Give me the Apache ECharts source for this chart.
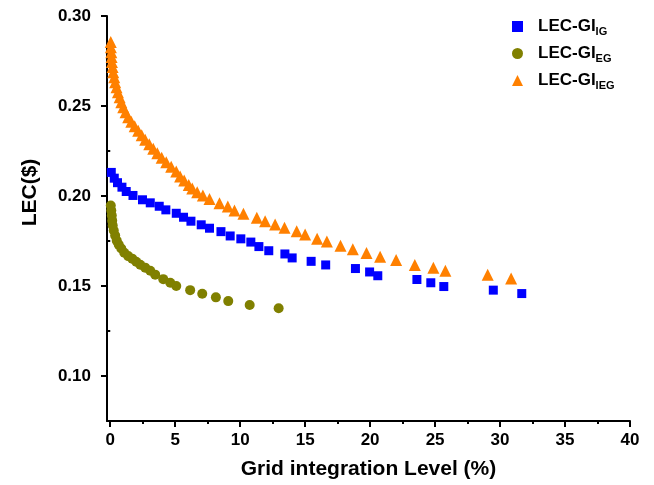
<!DOCTYPE html>
<html>
<head>
<meta charset="utf-8">
<title>LEC vs grid integration level</title>
<script src="https://cdn.jsdelivr.net/npm/echarts@6/dist/echarts.min.js"></script>
<style>
  html, body { margin: 0; padding: 0; background: #fff; }
  #chart { width: 654px; height: 485px; }
</style>
</head>
<body>
<div id="chart"></div>
<script>
// LEC-GI_IG (blue squares)
const igX = [0.08, 0.31, 0.56, 0.9, 1.23, 1.75, 2.48, 3.08, 3.77, 4.28, 5.08, 5.64, 6.21, 7.0, 7.64, 8.52, 9.23, 10.05, 10.82, 11.44, 12.2, 13.44, 14.0, 15.46, 16.58, 18.87, 19.96, 20.59, 23.6, 24.67, 25.67, 29.48, 31.67]
const igY = [0.2131, 0.2099, 0.2074, 0.2049, 0.2025, 0.2003, 0.1979, 0.1962, 0.1943, 0.1923, 0.1904, 0.1882, 0.1860, 0.1840, 0.1821, 0.1802, 0.1778, 0.1762, 0.1744, 0.1719, 0.1696, 0.1678, 0.1656, 0.1637, 0.1617, 0.1597, 0.1578, 0.1557, 0.1536, 0.1518, 0.1497, 0.1477, 0.1458]

// LEC-GI_EG (olive circles)
const egX = [0.04, 0.08, 0.12, 0.15, 0.19, 0.27, 0.38, 0.5, 0.65, 0.85, 1.08, 1.38, 1.69, 2.0, 2.31, 2.69, 3.08, 3.46, 4.08, 4.62, 5.08, 6.15, 7.08, 8.13, 9.08, 10.73, 12.96]
const egY = [0.1947, 0.1919, 0.1891, 0.1863, 0.1836, 0.1808, 0.1780, 0.1752, 0.1730, 0.1708, 0.1685, 0.1666, 0.1652, 0.1635, 0.1618, 0.1602, 0.1585, 0.1563, 0.1538, 0.1518, 0.1500, 0.1477, 0.1457, 0.1437, 0.1416, 0.1394, 0.1376]

// LEC-GI_IEG (orange triangles)
const iegX = [0.04, 0.05, 0.08, 0.1, 0.13, 0.18, 0.23, 0.31, 0.38, 0.48, 0.59, 0.72, 0.85, 1.0, 1.18, 1.38, 1.62, 1.88, 2.15, 2.42, 2.69, 3.0, 3.31, 3.62, 3.96, 4.31, 4.69, 5.08, 5.38, 5.69, 6.04, 6.31, 6.69, 7.13, 7.64, 8.41, 9.05, 9.56, 10.25, 11.28, 11.92, 12.69, 13.41, 14.35, 15.0, 15.92, 16.67, 17.72, 18.67, 19.72, 20.77, 22.0, 23.44, 24.87, 25.79, 29.05, 30.85]
const iegY = [0.2855, 0.2827, 0.2799, 0.2772, 0.2744, 0.2716, 0.2688, 0.2660, 0.2632, 0.2604, 0.2577, 0.2549, 0.2521, 0.2493, 0.2465, 0.2437, 0.2412, 0.2387, 0.2362, 0.2337, 0.2312, 0.2287, 0.2262, 0.2237, 0.2212, 0.2187, 0.2162, 0.2136, 0.2109, 0.2086, 0.2061, 0.2042, 0.2021, 0.2003, 0.1984, 0.1960, 0.1942, 0.1919, 0.1901, 0.1879, 0.1860, 0.1841, 0.1823, 0.1804, 0.1786, 0.1762, 0.1747, 0.1724, 0.1704, 0.1684, 0.1663, 0.1645, 0.1617, 0.1602, 0.1585, 0.1563, 0.1542]

// tick labels
const xTicks = [0, 5, 10, 15, 20, 25, 30, 35, 40]
const xMinor = [2.5, 7.5, 12.5, 17.5, 22.5, 27.5, 32.5, 37.5]
const yTicks = [0.10, 0.15, 0.20, 0.25, 0.30]
const yMinor = [0.075, 0.125, 0.175, 0.225, 0.275]

const seriesNames = ['LEC-GI_IG', 'LEC-GI_EG', 'LEC-GI_IEG']

const FONT = 'Liberation Sans, Arial, sans-serif'
const zip = (xs, ys) => xs.map((x, i) => [x, ys[i]])

const chart = echarts.init(document.getElementById('chart'), null, { renderer: 'canvas' })

const labelStyle = { color: '#000', fontFamily: FONT, fontWeight: 'bold', fontSize: 17 }
const lineStyle = { color: '#000', width: 2 }

chart.setOption({
  animation: false,
  backgroundColor: '#fff',
  grid: { left: 107, right: 24, top: 16, bottom: 64 },
  legend: {
    orient: 'vertical',
    left: 507,
    top: 13,
    itemWidth: 11,
    itemHeight: 11,
    itemGap: 7.5,
    data: [
      { name: seriesNames[0], icon: 'rect' },
      { name: seriesNames[1], icon: 'circle' },
      { name: seriesNames[2], icon: 'triangle' }
    ],
    formatter: function (name) {
      const sub = name.split('_')[1]
      return '{a|LEC-GI}{b|' + sub + '}'
    },
    textStyle: {
      rich: {
        a: { fontFamily: FONT, fontWeight: 'bold', fontSize: 17, color: '#000', padding: [0, 0, 0, 10] },
        b: { fontFamily: FONT, fontWeight: 'bold', fontSize: 11, color: '#000', padding: [11, 0, 0, 0] }
      }
    }
  },
  xAxis: [
    {
      type: 'value',
      min: -0.25,
      max: 40,
      name: 'Grid integration Level (%)',
      nameLocation: 'middle',
      nameGap: 38,
      nameTextStyle: { color: '#000', fontFamily: FONT, fontWeight: 'bold', fontSize: 21 },
      splitLine: { show: false },
      axisLine: { onZero: false, lineStyle: lineStyle },
      axisTick: { customValues: xTicks, length: 6, lineStyle: lineStyle },
      axisLabel: Object.assign({ customValues: xTicks, margin: 11, formatter: v => String(v) }, labelStyle)
    },
    {
      // minor ticks only
      type: 'value',
      min: -0.25,
      max: 40,
      position: 'bottom',
      splitLine: { show: false },
      axisLine: { show: false },
      axisLabel: { show: false },
      axisTick: { customValues: xMinor, length: 3, lineStyle: lineStyle }
    }
  ],
  yAxis: [
    {
      type: 'value',
      min: 0.075,
      max: 0.30,
      name: 'LEC($)',
      nameLocation: 'middle',
      nameGap: 66,
      nameTextStyle: { color: '#000', fontFamily: FONT, fontWeight: 'bold', fontSize: 21, padding: [0, 0, 0, 52] },
      splitLine: { show: false },
      axisLine: { onZero: false, lineStyle: lineStyle },
      axisTick: { customValues: yTicks, length: 6, lineStyle: lineStyle },
      axisLabel: Object.assign({ customValues: yTicks, margin: 16, formatter: v => v.toFixed(2) }, labelStyle)
    },
    {
      type: 'value',
      min: 0.075,
      max: 0.30,
      position: 'left',
      splitLine: { show: false },
      axisLine: { show: false },
      axisLabel: { show: false },
      axisTick: { customValues: yMinor, length: 3, lineStyle: lineStyle }
    }
  ],
  series: [
    {
      name: seriesNames[0],
      type: 'scatter',
      symbol: 'rect',
      symbolSize: 9,
      itemStyle: { color: '#0000ff', opacity: 1 },
      data: zip(igX, igY)
    },
    {
      name: seriesNames[1],
      type: 'scatter',
      symbol: 'circle',
      symbolSize: 10,
      itemStyle: { color: '#808000', opacity: 1 },
      data: zip(egX, egY)
    },
    {
      name: seriesNames[2],
      type: 'scatter',
      symbol: 'triangle',
      symbolSize: 12,
      itemStyle: { color: '#ff8000', opacity: 1 },
      data: zip(iegX, iegY)
    }
  ]
})
</script>
</body>
</html>
